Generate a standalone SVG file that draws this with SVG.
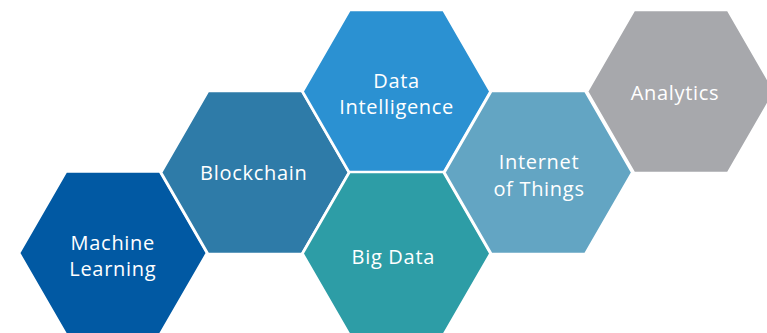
<svg xmlns="http://www.w3.org/2000/svg" width="767" height="333" viewBox="0 0 767 333">
<defs>
<style>
.hex{stroke:#ffffff;stroke-width:2.5;stroke-linejoin:miter}
.t{font-family:"Open Sans","Liberation Sans",sans-serif;font-size:20px;letter-spacing:0.7px;fill:#ffffff;text-anchor:middle}
</style>
<polygon id="h" points="-94,0 -47,-81.4 47,-81.4 94,0 47,81.4 -47,81.4"/>
</defs>
<rect width="767" height="333" fill="#ffffff"/>
<g id="machine-learning">
<use href="#h" x="113" y="253" class="hex" fill="#0159A3"/>
<text class="t" x="112.8" y="250">Machine</text>
<text class="t" x="112.8" y="276">Learning</text>
</g>
<g id="blockchain">
<use href="#h" x="255" y="172.5" class="hex" fill="#2E7BA8"/>
<text class="t" x="253.8" y="180">Blockchain</text>
</g>
<g id="data-intelligence">
<use href="#h" x="396.5" y="91.5" class="hex" fill="#2B91D2"/>
<text class="t" x="396.6" y="87.7">Data</text>
<text class="t" x="396.6" y="114.3">Intelligence</text>
</g>
<g id="big-data">
<use href="#h" x="396.5" y="253.5" class="hex" fill="#2D9DA6"/>
<text class="t" x="393.3" y="264">Big Data</text>
</g>
<g id="internet-of-things">
<use href="#h" x="538.3" y="172.5" class="hex" fill="#63A5C3"/>
<text class="t" x="539" y="169">Internet</text>
<text class="t" x="539" y="195.7">of Things</text>
</g>
<g id="analytics">
<use href="#h" x="681" y="91.5" class="hex" fill="#A7A8AC"/>
<text class="t" x="675" y="100">Analytics</text>
</g>
<g id="connectors"/>
</svg>
